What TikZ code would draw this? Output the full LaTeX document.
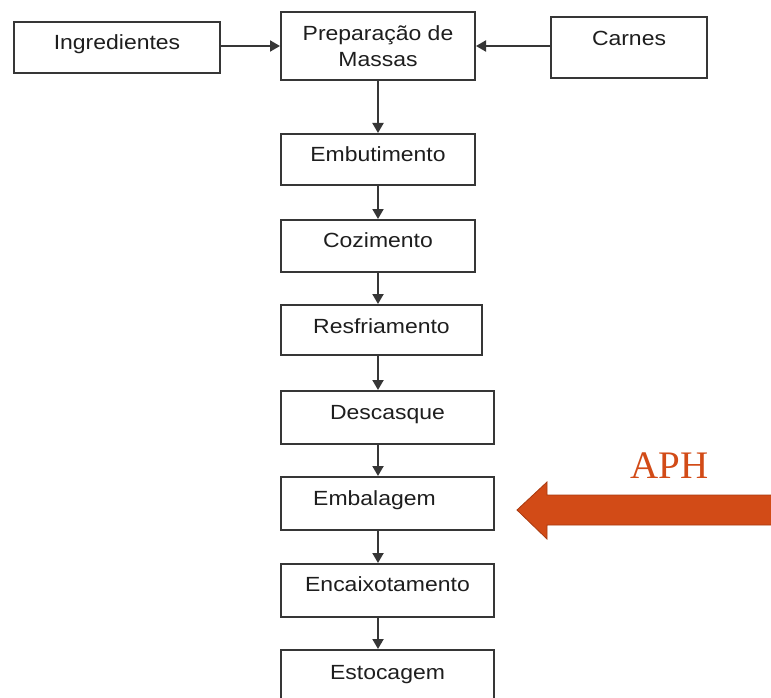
\documentclass[tikz,border=0pt]{standalone}
\usepackage{fontspec}
\setmainfont{Liberation Sans}[FakeStretch=1.12]
\newfontfamily\aphfont{Liberation Serif}
\usetikzlibrary{arrows.meta}
\definecolor{boxline}{HTML}{363636}
\definecolor{txtcol}{HTML}{1E1E1E}
\definecolor{aphred}{HTML}{D24B17}
\definecolor{aphdark}{HTML}{A8390F}
\begin{document}
\begin{tikzpicture}[x=1pt,y=-1pt,
  box/.style={draw=boxline, line width=2pt, inner sep=0pt, anchor=north west,
    text=txtcol, font=\fontsize{20.5}{24}\selectfont},
  arr/.style={draw=boxline, line width=2pt, -{Triangle[length=10pt,width=11pt]}}]
\clip (0,0) rectangle (771,698);
\fill[white] (0,0) rectangle (771,698);

\node[box, minimum width=206pt, text height=27.8pt, text depth=23.2pt] (ing) at (13,21) {Ingredientes};
\node[box, minimum width=194pt, minimum height=68pt, align=center,
  font=\fontsize{20.5}{26}\selectfont] (prep) at (280,11) {Preparação de\\Massas};
\node[box, minimum width=156pt, text height=28.3pt, text depth=32.7pt] (carnes) at (550,16) {Carnes};
\node[box, minimum width=194pt, text height=27.8pt, text depth=23.2pt] (emb) at (280,133) {Embutimento};
\node[box, minimum width=194pt, text height=27.3pt, text depth=24.7pt] (coz) at (280,219) {Cozimento};
\node[box, minimum width=201pt, text height=28.3pt, text depth=21.7pt] (res) at (280,304) {Resfriamento};
\node[box, minimum width=213pt, text height=28.3pt, text depth=24.7pt] (desc) at (280,390) {Descasque};
\node[box, minimum width=213pt, text height=28.3pt, text depth=24.7pt] (embal) at (280,476) {Embalagem\hspace*{26pt}};
\node[box, minimum width=213pt, text height=27.8pt, text depth=25.2pt] (encx) at (280,563) {Encaixotamento};
\node[box, minimum width=213pt, text height=29.3pt, text depth=33pt] (esto) at (280,649) {Estocagem};

\draw[arr] (ing.east |- prep.west) -- (prep.west);
\draw[arr] (carnes.west |- prep.east) -- (prep.east);
\draw[arr] (prep.south) -- (emb.north);
\draw[arr] (emb.south) -- (coz.north);
\draw[arr] (coz.south) -- (res.north -| coz.south);
\draw[arr] (res.south -| coz.south) -- (desc.north -| coz.south);
\draw[arr] (desc.south -| coz.south) -- (embal.north -| coz.south);
\draw[arr] (embal.south -| coz.south) -- (encx.north -| coz.south);
\draw[arr] (encx.south -| coz.south) -- (esto.north -| coz.south);

\fill[aphred, draw=aphdark, line width=0.8pt] (517,510) -- (547,482) -- (547,495) -- (775,495)
  -- (775,525) -- (547,525) -- (547,539) -- cycle;
\node[inner sep=0pt, text=aphred, font=\aphfont\fontsize{39}{39}\selectfont] (aph) at (669.5,466) {APH};
\end{tikzpicture}
\end{document}
